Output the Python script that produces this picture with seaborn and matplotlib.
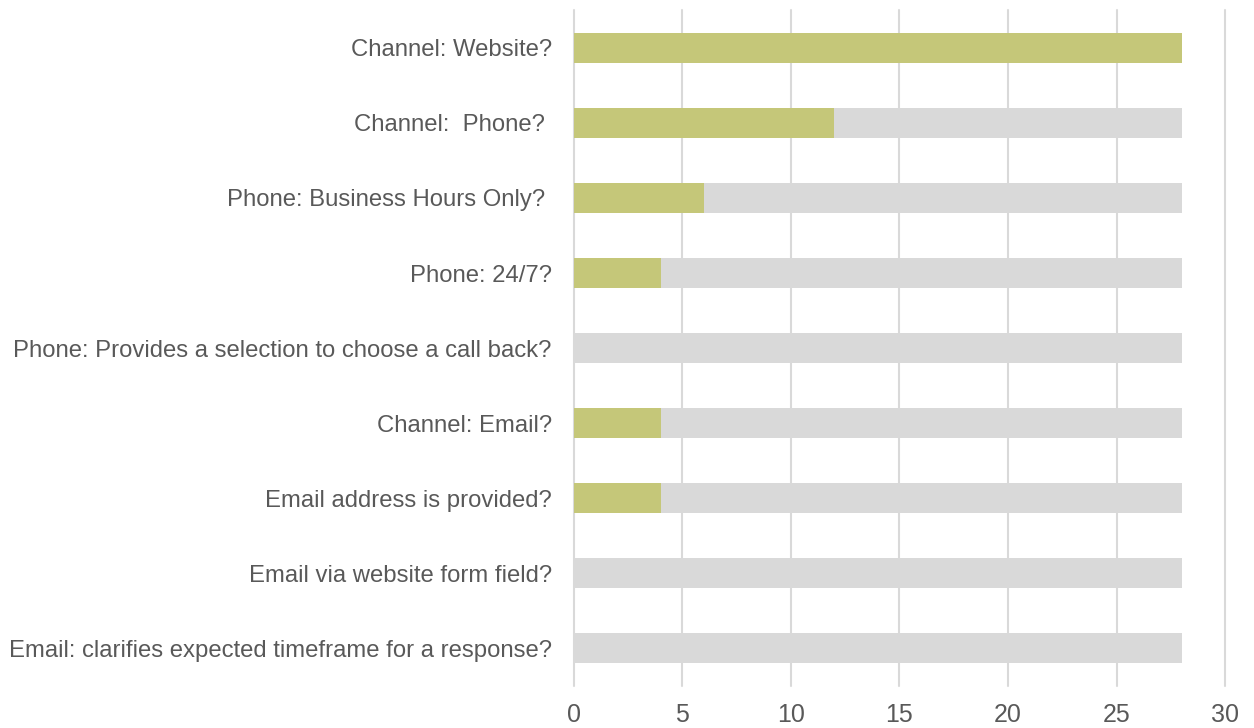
import matplotlib
matplotlib.use("Agg")
import matplotlib.pyplot as plt
import seaborn as sns
import pandas as pd

# Dados
categories = [
    "Channel: Website?",
    "Channel:  Phone? ",
    "Phone: Business Hours Only? ",
    "Phone: 24/7?",
    "Phone: Provides a selection to choose a call back?",
    "Channel: Email?",
    "Email address is provided?",
    "Email via website form field?",
    "Email: clarifies expected timeframe for a response?",
]
yes_counts = [28, 12, 6, 4, 0, 4, 4, 0, 0]
total_counts = [28, 28, 28, 28, 28, 28, 28, 28, 28]
x_ticks = [0, 5, 10, 15, 20, 25, 30]

df = pd.DataFrame({"category": categories, "yes": yes_counts, "total": total_counts})

sns.set_style("white")
plt.rcParams["font.family"] = ["Liberation Sans", "DejaVu Sans"]

fig, ax = plt.subplots(figsize=(12.54, 7.28), dpi=100)
fig.subplots_adjust(left=0.4577, right=0.9769, top=0.986, bottom=0.0577)

sns.barplot(data=df, x="total", y="category", color="#D9D9D9", width=0.4,
            saturation=1, linewidth=0, ax=ax, orient="h", zorder=2)
sns.barplot(data=df, x="yes", y="category", color="#C5C779", width=0.4,
            saturation=1, linewidth=0, ax=ax, orient="h", zorder=3)

ax.set_xlim(0, 30)
ax.set_ylim(8.5, -0.5)
ax.set_xticks(x_ticks)
ax.xaxis.grid(True, color="#D9D9D9", linewidth=1.5, zorder=0)
for gl in ax.get_xgridlines():
    gl.set_clip_on(False)
ax.set_axisbelow(True)
for s in ax.spines.values():
    s.set_visible(False)

ax.set_xlabel("")
ax.set_ylabel("")
ax.tick_params(axis="y", length=0, pad=16, labelsize=17.2, labelcolor="#595959")
ax.tick_params(axis="x", length=0, pad=12, labelsize=18, labelcolor="#595959")

plt.savefig("out.png", dpi=100)
plt.close()
